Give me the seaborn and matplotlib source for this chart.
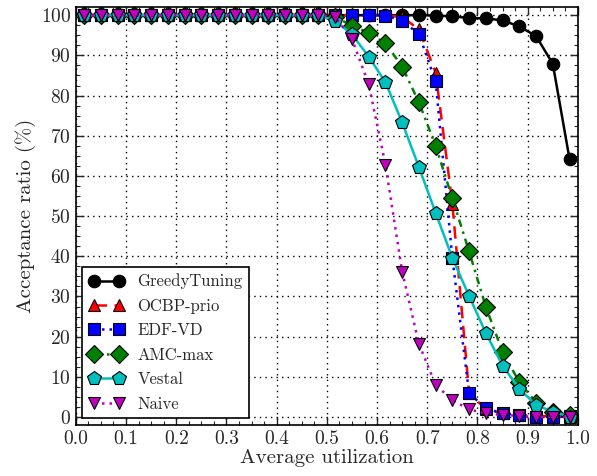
import pandas as pd
import matplotlib
matplotlib.use("Agg")
import matplotlib.pyplot as plt
from matplotlib.ticker import MultipleLocator, FormatStrFormatter
import seaborn as sns

# utilisation points (centres of 30 bins)
utilization = [(2 * k + 1) / 60 for k in range(30)]

greedy = [100] * 19 + [100, 100, 99.9, 99.7, 99.3, 99.2, 98.7, 97.2, 94.8, 87.9, 64.2]
ocbp = [100] * 19 + [99.5, 96.5, 85.7, 53.0, 6.0, 1.9, 0.9, 0.5, 0.3, 0.2, 0.1]
edfvd = [100] * 18 + [99.9, 98.6, 95.3, 83.5, 39.5, 5.9, 2.2, 0.9, 0.6, 0.1, 0.0, 0.2]
amcmax = [100] * 15 + [99.5, 97.4, 95.6, 93.0, 87.2, 78.3, 67.5, 54.4, 41.2, 27.4, 16.2, 8.7, 3.6, 1.3, 0.5]
vestal = [100] * 15 + [98.6, 95.2, 89.7, 83.3, 73.3, 62.2, 50.8, 39.6, 30.1, 20.9, 12.8, 7.0, 3.0, 1.3, 0.1]
naive = [100] * 15 + [99.6, 94.1, 82.8, 62.8, 36.2, 18.2, 8.0, 4.2, 1.9, 0.9, 0.5, 0.3, 0.0, 0.1, 0.0]

series = [
    ("GreedyTuning", greedy, "black", "o", "-"),
    ("OCBP-prio", ocbp, "red", "^", (0, (5, 3))),
    ("EDF-VD", edfvd, "blue", "s", (0, (1, 2))),
    ("AMC-max", amcmax, (0, 0.5, 0), "D", (0, (3, 2, 1, 2))),
    ("Vestal", vestal, (0, 0.75, 0.75), "p", "-"),
    ("Naive", naive, (0.75, 0, 0.75), "v", (0, (1, 2))),
]

sns.set_style("ticks")
plt.rcParams["font.family"] = ["cmr10", "DejaVu Serif"]
plt.rcParams["mathtext.fontset"] = "cm"
plt.rcParams["axes.formatter.use_mathtext"] = True
plt.rcParams["axes.unicode_minus"] = False

fig = plt.figure(figsize=(5.97, 4.76), dpi=100)
ax = fig.add_axes([0.127, 0.107, 0.841, 0.878])

for name, vals, color, marker, ls in series:
    df = pd.DataFrame({"u": utilization, "r": vals})
    sns.lineplot(data=df, x="u", y="r", ax=ax, color=color, marker=marker,
                 linestyle=ls, linewidth=1.8, markersize=9 if marker != "p" else 10,
                 markeredgecolor="black", markeredgewidth=0.8, label=name,
                 legend=False)

ax.set_xlim(0, 1.0)
ax.set_ylim(-2, 102)
ax.xaxis.set_major_locator(MultipleLocator(0.1))
ax.xaxis.set_minor_locator(MultipleLocator(0.025))
ax.yaxis.set_major_locator(MultipleLocator(10))
ax.yaxis.set_minor_locator(MultipleLocator(2.5))
ax.xaxis.set_major_formatter(FormatStrFormatter("%.1f"))
ax.tick_params(which="both", direction="in", top=True, right=True, labelsize=14)
ax.tick_params(which="major", length=6, width=1)
ax.tick_params(which="minor", length=3, width=0.8)
for sp in ax.spines.values():
    sp.set_linewidth(1.2)
    sp.set_color("black")
ax.grid(True, which="major", linestyle=(0, (1, 3)), color="black", linewidth=1)

ax.set_xlabel("Average utilization", fontsize=15, labelpad=1)
ax.set_ylabel("Acceptance ratio (%)", fontsize=15, labelpad=3)

leg = ax.legend(loc="lower left", numpoints=2, fontsize=12, fancybox=False,
                framealpha=1, edgecolor="black", handlelength=2.1,
                borderaxespad=0.4, labelspacing=0.55)
leg.get_frame().set_linewidth(1.2)

fig.savefig("out.png", dpi=100)
